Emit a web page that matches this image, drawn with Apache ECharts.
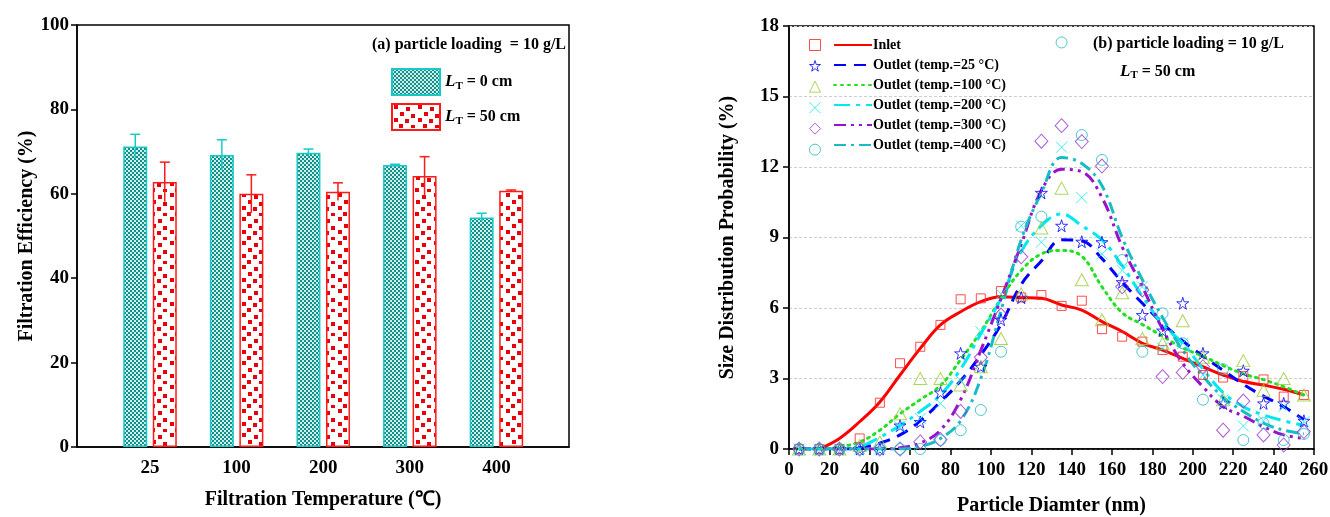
<!DOCTYPE html>
<head>
    <meta charset="utf-8">
    <script src="https://cdn.jsdelivr.net/npm/echarts@6/dist/echarts.min.js"></script>
    <title>Filtration efficiency and size distribution</title>
    <style>
        body { margin: 0; background: #fff; }
        #main { width: 1330px; height: 517px; }
    </style>
</head>
<body>
    <div id="main"></div>
    <script type="text/javascript">
    // ---- (a) filtration efficiency ----
    var temps = ['25', '100', '200', '300', '400'];
    var eff0 = [71.2, 69.2, 69.7, 66.8, 54.4];
    var err0 = [2.9, 3.6, 0.9, 0.2, 1.0];
    var eff50 = [62.8, 60.0, 60.5, 64.2, 60.7];
    var err50 = [4.7, 4.5, 2.1, 4.6, 0.2];

    // ---- (b) size distribution ----
    var diam = [5, 15, 25, 35, 45, 55, 65, 75, 85, 95, 105, 115, 125, 135, 145, 155, 165, 175, 185, 195, 205, 215, 225, 235, 245, 255];
    // measured points
    var inletPts = [0, 0, 0, 0.45, 1.97, 3.65, 4.35, 5.28, 6.37, 6.41, 6.72, 6.45, 6.55, 6.09, 6.31, 5.1, 4.78, 4.57, 4.21, 3.93, 3.15, 3.04, 3.1, 2.96, 2.23, 2.3];
    var t25Pts = [0, 0, 0, 0, 0, 1.0, 1.15, 2.4, 4.07, 3.5, 5.5, 6.44, 10.9, 9.5, 8.82, 8.8, 7.1, 5.7, 5.04, 6.2, 4.07, 1.94, 3.33, 1.94, 1.94, 1.2];
    var t100Pts = [0, 0, 0, 0.15, 0.3, 1.5, 3.0, 3.0, 2.72, 3.5, 4.7, 6.6, 9.4, 11.1, 7.2, 5.5, 6.65, 4.7, 4.5, 5.46, 3.9, 2.1, 3.76, 2.5, 3.0, 2.3];
    var t200Pts = [0, 0, 0, 0, 0, 0.95, 1.3, 1.94, 2.9, 5.0, 6.6, 9.5, 8.8, 12.84, 10.7, 8.3, 7.6, 6.9, 4.3, 4.5, 3.15, 2.1, 0.98, 1.2, 1.8, 1.16];
    var t300Pts = [0, 0, 0, 0, 0, 0, 0.3, 0.4, 1.6, 3.9, 5.7, 8.18, 13.1, 13.76, 13.08, 12.04, 6.9, 6.77, 3.08, 3.26, 3.5, 0.8, 2.04, 0.6, 0.17, 0.74];
    var t400Pts = [0, 0, 0, 0, 0, 0, 0, 0.38, 0.8, 1.66, 4.14, 9.46, 9.89, 17.3, 13.36, 12.3, 8.04, 4.14, 5.77, 4.5, 2.1, 3.4, 0.38, 1.1, 0.38, 0.64];
    // fitted curves
    var inletFit = [null, 0, 0.45, 1.16, 2.0, 3.15, 4.28, 5.28, 5.84, 6.27, 6.48, 6.44, 6.41, 6.13, 5.91, 5.42, 5.0, 4.5, 4.21, 3.86, 3.5, 3.15, 2.87, 2.72, 2.54, 2.3];
    var t25Fit = [0, 0, 0, 0.05, 0.25, 0.6, 1.2, 2.0, 2.9, 4.0, 5.3, 7.0, 8.0, 8.9, 8.85, 8.1, 7.1, 6.2, 5.35, 4.6, 3.95, 3.35, 2.75, 2.25, 1.8, 1.25];
    var t100Fit = [0, 0, 0.1, 0.3, 0.8, 1.5, 2.1, 2.7, 3.8, 5.0, 6.4, 7.6, 8.3, 8.45, 8.2, 6.9, 5.8, 5.3, 4.8, 4.3, 3.95, 3.55, 3.2, 2.95, 2.65, 2.3];
    var t200Fit = [0, 0, 0, 0.1, 0.5, 1.0, 1.6, 2.3, 3.4, 4.9, 6.4, 8.4, 9.5, 10.0, 9.5, 8.9, 7.8, 6.5, 5.3, 4.5, 3.4, 2.4, 1.8, 1.45, 1.2, 1.0];
    var t300Fit = [0, 0, 0, 0, 0, 0.05, 0.25, 0.8, 2.1, 4.2, 6.4, 8.7, 11.0, 11.9, 11.8, 10.7, 8.6, 6.9, 5.1, 3.65, 2.65, 1.8, 1.4, 0.95, 0.6, 0.45];
    var t400Fit = [0, 0, 0, 0, 0, 0, 0.1, 0.45, 1.2, 3.0, 5.9, 8.9, 10.9, 12.4, 12.15, 11.2, 9.0, 7.2, 5.6, 4.2, 3.1, 2.2, 1.6, 1.1, 0.8, 0.65];

    var lineNames = ['Inlet', 'Outlet (temp.=25 °C)', 'Outlet (temp.=100 °C)', 'Outlet (temp.=200 °C)', 'Outlet (temp.=300 °C)', 'Outlet (temp.=400 °C)'];

    var FONT = "'Liberation Serif', 'Times New Roman', serif";

    // fill patterns for the bars
    function checker() {
        var c = document.createElement('canvas');
        c.width = 4; c.height = 4;
        var g = c.getContext('2d');
        g.fillStyle = '#cfeeea'; g.fillRect(0, 0, 4, 4);
        g.fillStyle = '#13918a';
        g.fillRect(0, 0, 2, 2); g.fillRect(2, 2, 2, 2);
        return c;
    }
    function redDots() {
        var c = document.createElement('canvas');
        c.width = 24; c.height = 24;
        var g = c.getContext('2d');
        g.fillStyle = '#fff'; g.fillRect(0, 0, 24, 24);
        g.fillStyle = '#e8000b';
        [[2, 1], [14, 3], [8, 8], [19, 10], [2, 14], [13, 15], [7, 20], [19, 21]].forEach(function (p) {
            g.fillRect(p[0], p[1], 4, 4);
        });
        return c;
    }

    function pairs(vals) {
        return vals.map(function (v, i) { return [diam[i], v]; });
    }
    function barData(vals) {
        return vals.map(function (v, i) { return [i, v]; });
    }
    function errData(vals, errs) {
        return vals.map(function (v, i) { return [i, v, errs[i]]; });
    }
    function errBar(shift, color) {
        return function (params, api) {
            var x = api.value(0), v = api.value(1), e = api.value(2);
            var hi = api.coord([x, v + e]);
            var lo = api.coord([x, v - e]);
            var cx = hi[0] + shift;
            return {
                type: 'group',
                children: [
                    { type: 'line', shape: { x1: cx, y1: hi[1], x2: cx, y2: lo[1] }, style: { stroke: color, lineWidth: 1.5 } },
                    { type: 'line', shape: { x1: cx - 5, y1: hi[1], x2: cx + 5, y2: hi[1] }, style: { stroke: color, lineWidth: 1.5 } }
                ]
            };
        };
    }

    var axisFont = { fontFamily: FONT, fontWeight: 'bold', fontSize: 19, color: '#000' };
    var nameFont = { fontFamily: FONT, fontWeight: 'bold', fontSize: 20, color: '#000' };

    var lineColors = ['#ff0000', '#0000ff', '#22e022', '#00e8f0', '#9a10cc', '#18bcc4'];
    var dashes = ['solid', [12, 8], [2, 5], [16, 6, 4, 6], [12, 5, 3, 5, 3, 5], [12, 5, 3, 5]];
    var markColors = ['#ff2020', '#0000ff', '#99cc33', '#10e8f0', '#9933cc', '#22b8c8'];
    var markSymbols = [
        'rect',
        'path://M50,2L61,37L98,37L68,59L79,95L50,73L21,95L32,59L2,37L39,37Z',
        'triangle',
        'path://M0,0L10,10M10,0L0,10',
        'diamond',
        'circle'
    ];
    var markSizes = [9, 12, [13, 12], 11, [13, 14], 11];
    var ptsList = [inletPts, t25Pts, t100Pts, t200Pts, t300Pts, t400Pts];
    var fitList = [inletFit, t25Fit, t100Fit, t200Fit, t300Fit, t400Fit];

    var series = [
        {
            name: 'LT0', type: 'bar', xAxisIndex: 0, yAxisIndex: 0,
            data: barData(eff0), barWidth: 24, barGap: '23%',
            itemStyle: { color: { image: checker(), repeat: 'repeat' }, borderColor: '#19c9c9', borderWidth: 1.5 }
        },
        {
            name: 'LT50', type: 'bar', xAxisIndex: 0, yAxisIndex: 0,
            data: barData(eff50), barWidth: 24, barGap: '23%',
            itemStyle: { color: { image: redDots(), repeat: 'repeat' }, borderColor: '#ff1a1a', borderWidth: 1.5 }
        },
        {
            type: 'custom', xAxisIndex: 0, yAxisIndex: 0, z: 5,
            data: errData(eff0, err0), renderItem: errBar(-14.75, '#19c9c9')
        },
        {
            type: 'custom', xAxisIndex: 0, yAxisIndex: 0, z: 5,
            data: errData(eff50, err50), renderItem: errBar(14.75, '#ff1a1a')
        }
    ];
    var markNames = [];
    for (var k = 0; k < 6; k++) {
        series.push({
            name: lineNames[k], type: 'line', xAxisIndex: 1, yAxisIndex: 1,
            data: pairs(fitList[k]), smooth: 0.4, symbol: 'none',
            lineStyle: { color: lineColors[k], width: 3, type: dashes[k], cap: k === 2 ? 'round' : 'butt' },
            itemStyle: { color: lineColors[k] },
            z: 3
        });
        markNames.push('m' + k);
        series.push({
            name: 'm' + k, type: 'scatter', xAxisIndex: 1, yAxisIndex: 1,
            data: pairs(ptsList[k]), symbol: markSymbols[k], symbolSize: markSizes[k],
            itemStyle: { color: 'rgba(0,0,0,0)', borderColor: markColors[k], borderWidth: 1 },
            z: 4
        });
    }

    var myChart = echarts.init(document.getElementById('main'));
    var option = {
        animation: false,
        backgroundColor: '#fff',
        grid: [
            { left: 77, right: 761, top: 25, bottom: 70, show: true, borderColor: '#000', borderWidth: 1.5, outerBoundsMode: 'none' },
            { left: 789, right: 16, top: 26, bottom: 68, show: true, borderColor: '#000', borderWidth: 1.5, outerBoundsMode: 'none' }
        ],
        xAxis: [
            {
                type: 'value', gridIndex: 0, min: -0.843, max: 4.838,
                axisLine: { onZero: false, lineStyle: { color: '#000', width: 1.5 } },
                axisTick: { show: false },
                splitLine: { show: false },
                axisLabel: Object.assign({ customValues: [0, 1, 2, 3, 4], margin: 12, formatter: function (v) { return temps[Math.round(v)]; } }, axisFont),
                name: 'Filtration Temperature (℃)', nameLocation: 'middle', nameGap: 43, nameTextStyle: nameFont
            },
            {
                type: 'value', gridIndex: 1, min: 0, max: 260, interval: 20,
                axisLine: { onZero: false, lineStyle: { color: '#000', width: 1.5 } },
                axisTick: { show: true, length: 6, lineStyle: { color: '#000', width: 1.5 } },
                splitLine: { show: false },
                axisLabel: Object.assign({ margin: 12 }, axisFont),
                name: 'Particle Diamter (nm)', nameLocation: 'middle', nameGap: 47, nameTextStyle: nameFont
            }
        ],
        yAxis: [
            {
                type: 'value', gridIndex: 0, min: 0, max: 100, interval: 20,
                axisLine: { show: true, onZero: false, lineStyle: { color: '#000', width: 1.5 } },
                axisTick: { show: true, length: 6, lineStyle: { color: '#000', width: 1.5 } },
                splitLine: { show: false },
                axisLabel: Object.assign({ margin: 8 }, axisFont),
                name: 'Filtration Efficiency (%)', nameLocation: 'middle', nameGap: 39, nameTextStyle: nameFont
            },
            {
                type: 'value', gridIndex: 1, min: 0, max: 18, interval: 3,
                axisLine: { show: true, onZero: false, lineStyle: { color: '#000', width: 1.5 } },
                axisTick: { show: true, length: 6, lineStyle: { color: '#000', width: 1.5 } },
                splitLine: { show: true, lineStyle: { color: '#cfcfcf', type: [3, 2], width: 1 } },
                axisLabel: Object.assign({ margin: 10 }, axisFont),
                name: 'Size Distribution Probability (%)', nameLocation: 'middle', nameGap: 51, nameTextStyle: nameFont
            }
        ],
        legend: [
            {
                data: ['LT0', 'LT50'], orient: 'vertical', left: 386, top: 63, icon: 'rect',
                itemWidth: 48, itemHeight: 26, itemGap: 7,
                formatter: function (n) {
                    return n === 'LT0' ? '{i|L}{s|T}{n| = 0 cm}' : '{i|L}{s|T}{n| = 50 cm}';
                },
                textStyle: {
                    fontFamily: FONT, fontWeight: 'bold', fontSize: 16, color: '#000',
                    rich: {
                        i: { fontFamily: FONT, fontWeight: 'bold', fontStyle: 'italic', fontSize: 17, color: '#000' },
                        s: { fontFamily: FONT, fontWeight: 'bold', fontSize: 11, color: '#000', verticalAlign: 'bottom', padding: [8, 0, 0, 0] },
                        n: { fontFamily: FONT, fontWeight: 'bold', fontSize: 16, color: '#000' }
                    }
                }
            },
            {
                data: markNames, orient: 'vertical', left: 804, top: 34,
                itemWidth: 11, itemHeight: 11, itemGap: 9,
                itemStyle: { color: 'rgba(0,0,0,0)', borderWidth: 1 },
                formatter: function () { return ''; },
                textStyle: { fontSize: 1 }
            },
            {
                data: lineNames, orient: 'vertical', left: 828, top: 33,
                itemWidth: 38, itemHeight: 14, itemGap: 6,
                itemStyle: { opacity: 0 },
                textStyle: { fontFamily: FONT, fontWeight: 'bold', fontSize: 14, color: '#000', padding: [0, 0, 0, -4] }
            }
        ],
        graphic: [
            {
                type: 'text', right: 1330 - 566, top: 37,
                style: { text: '(a) particle loading  = 10 g/L', font: 'bold 16px ' + FONT, fill: '#000' }
            },
            {
                type: 'text', left: 1093, top: 36,
                style: { text: '(b) particle loading = 10 g/L', font: 'bold 16px ' + FONT, fill: '#000' }
            },
            {
                type: 'text', left: 1120, top: 63,
                style: {
                    text: '{i|L}{s|T}{n| = 50 cm}',
                    rich: {
                        i: { fontFamily: FONT, fontWeight: 'bold', fontStyle: 'italic', fontSize: 17, fill: '#000' },
                        s: { fontFamily: FONT, fontWeight: 'bold', fontSize: 11, fill: '#000', padding: [8, 0, 0, 0] },
                        n: { fontFamily: FONT, fontWeight: 'bold', fontSize: 16, fill: '#000' }
                    }
                }
            }
        ],
        series: series
    };
    myChart.setOption(option);
    </script>
</body>
